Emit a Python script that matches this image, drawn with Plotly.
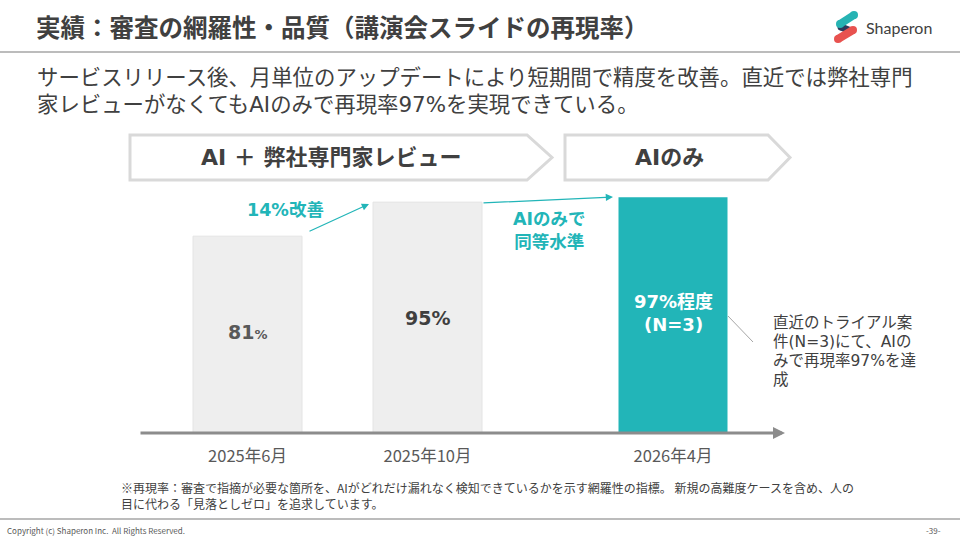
import plotly.graph_objects as go

# ---------------- data ----------------
phase1_categories = ["2025年6月", "2025年10月"]
phase1_values = [81, 95]
phase2_categories = ["2026年4月"]
phase2_values = [97]
phase_labels = ["AI ＋ 弊社専門家レビュー", "AIのみ"]
improvement_label = "14%改善"
equal_label = "AIのみで<br>同等水準"
bar3_label = "97%程度<br>(N=3)"
note_lines = ["直近のトライアル案", "件(N=3)にて、AIの", "みで再現率97%を達", "成"]
title_text = "実績：審査の網羅性・品質（講演会スライドの再現率）"
subtitle_lines = [
    "サービスリリース後、月単位のアップデートにより短期間で精度を改善。直近では弊社専門",
    "家レビューがなくてもAIのみで再現率97%を実現できている。",
]
footnote_lines = [
    "※再現率：審査で指摘が必要な箇所を、AIがどれだけ漏れなく検知できているかを示す網羅性の指標。 新規の高難度ケースを含め、人の",
    "目に代わる「見落としゼロ」を追求しています。",
]
copyright_text = "Copyright (c) Shaperon Inc.  All Rights Reserved."
page_text = "-39-"

# ---------------- style ----------------
W, H = 960, 540
TEAL = "#22b5b8"
GREY_BAR = "#eeeeee"
DARK = "#404040"
MID = "#595959"
JP = "Noto Sans CJK JP"
MIX = "DejaVu Sans, Noto Sans CJK JP"


def px(x):
    return x / W


def py(y):
    return 1 - y / H


fig = go.Figure()
fig.add_trace(go.Bar(
    x=phase1_categories, y=phase1_values, xaxis="x", yaxis="y",
    marker=dict(color=GREY_BAR, line=dict(color="#e4e4e4", width=1)),
    hoverinfo="skip",
))
fig.add_trace(go.Bar(
    x=phase2_categories, y=phase2_values, xaxis="x2", yaxis="y",
    marker=dict(color=TEAL, line=dict(width=0)),
    hoverinfo="skip",
))

shapes = []
annotations = []

# header / footer rules
shapes.append(dict(type="line", xref="paper", yref="paper", x0=0, x1=1, y0=py(52), y1=py(52),
                   line=dict(color="#a6a6a6", width=1.5)))
shapes.append(dict(type="line", xref="paper", yref="paper", x0=0, x1=1, y0=py(519), y1=py(519),
                   line=dict(color="#a6a6a6", width=1.5)))


# logo icon
def seg(x0, y0, x1, y1, color, w):
    shapes.append(dict(type="line", xref="paper", yref="paper", x0=px(x0), y0=py(y0), x1=px(x1), y1=py(y1),
                       line=dict(color=color, width=w)))
    for (cx, cy) in ((x0, y0), (x1, y1)):
        r = w / 2
        shapes.append(dict(type="circle", xref="paper", yref="paper", x0=px(cx - r), x1=px(cx + r),
                           y0=py(cy + r), y1=py(cy - r), fillcolor=color, line=dict(width=0)))


seg(841, 27, 851, 31, "#2e3a5c", 7)
seg(840, 24, 854, 15, "#27b3b3", 8)
seg(838, 39, 853, 30, "#e8524f", 8)

annotations.append(dict(text="Shaperon", xref="paper", yref="paper", x=px(864), y=py(27),
                        xanchor="left", yanchor="middle", showarrow=False,
                        font=dict(family="Lato, Noto Sans", size=16, color=DARK)))

# title
annotations.append(dict(text="<b>" + title_text + "</b>", xref="paper", yref="paper", x=px(34), y=py(26),
                        xanchor="left", yanchor="middle", showarrow=False,
                        font=dict(family=JP, size=24.5, color=DARK)))

# subtitle
for i, line in enumerate(subtitle_lines):
    annotations.append(dict(text=line, xref="paper", yref="paper", x=px(35), y=py(78 + 26 * i),
                            xanchor="left", yanchor="middle", showarrow=False,
                            font=dict(family=MIX, size=21.4, color=DARK)))

# phase chevrons
chevrons = [(130, 527, 552), (565, 768, 790)]
for (xl, xb, xt), label in zip(chevrons, phase_labels):
    path = (f"M {px(xl)},{py(135)} L {px(xb)},{py(135)} L {px(xt)},{py(157.5)} "
            f"L {px(xb)},{py(180)} L {px(xl)},{py(180)} Z")
    shapes.append(dict(type="path", xref="paper", yref="paper", path=path,
                       fillcolor="white", line=dict(color="#d9d9d9", width=3)))
    annotations.append(dict(text="<b>" + label + "</b>", xref="paper", yref="paper",
                            x=px((xl + xb) / 2 + 3), y=py(157), xanchor="center", yanchor="middle",
                            showarrow=False, font=dict(family=MIX, size=22, color=DARK)))

# baseline arrow
annotations.append(dict(text="", xref="paper", yref="y", x=px(785), y=0, ax=-(785 - 139), ay=0,
                        axref="pixel", ayref="pixel", showarrow=True, arrowhead=2, arrowsize=0.8,
                        arrowwidth=3, arrowcolor="#8c8c8c", standoff=0))

# bar value labels
annotations.append(dict(text="<b>" + str(phase1_values[0]) + "<span style='font-size:13px'>%</span></b>",
                        xref="x", yref="y", x=phase1_categories[0], y=phase1_values[0] / 2 + 1,
                        xanchor="center", showarrow=False, font=dict(family=MIX, size=19, color=MID)))
annotations.append(dict(text="<b>" + str(phase1_values[1]) + "%</b>",
                        xref="x", yref="y", x=phase1_categories[1], y=phase1_values[1] / 2,
                        xanchor="center", showarrow=False, font=dict(family=MIX, size=19, color="#3f3f3f")))
annotations.append(dict(text="<b>" + bar3_label + "</b>",
                        xref="x2", yref="y", x=phase2_categories[0], y=phase2_values[0] / 2 + 1,
                        xanchor="center", showarrow=False, font=dict(family=MIX, size=18, color="white")))

# improvement arrows and labels
annotations.append(dict(text="", xref="paper", yref="paper", x=px(369), y=py(204),
                        axref="pixel", ayref="pixel", ax=308 - 369, ay=232 - 204, showarrow=True,
                        arrowhead=2, arrowsize=1.2, arrowwidth=1.2, arrowcolor=TEAL, standoff=0))
annotations.append(dict(text="", xref="paper", yref="paper", x=px(613), y=py(197),
                        axref="pixel", ayref="pixel", ax=482 - 613, ay=203 - 197, showarrow=True,
                        arrowhead=2, arrowsize=1.2, arrowwidth=1.2, arrowcolor=TEAL, standoff=0))
annotations.append(dict(text="<b>" + improvement_label + "</b>", xref="paper", yref="paper",
                        x=px(285), y=py(210), xanchor="center", yanchor="middle", showarrow=False,
                        font=dict(family=MIX, size=17.5, color=TEAL)))
annotations.append(dict(text="<b>" + equal_label + "</b>", xref="paper", yref="paper",
                        x=px(549), y=py(230), xanchor="center", yanchor="middle", showarrow=False,
                        font=dict(family=MIX, size=17.5, color=TEAL)))

# leader line + note
shapes.append(dict(type="line", xref="paper", yref="paper", x0=px(728), y0=py(316), x1=px(753), y1=py(342),
                   line=dict(color="#a6a6a6", width=1)))
for i, line in enumerate(note_lines):
    annotations.append(dict(text=line, xref="paper", yref="paper", x=px(771), y=py(323 + 19 * i),
                            xanchor="left", yanchor="middle", showarrow=False,
                            font=dict(family=MIX, size=15.5, color=DARK)))

# footnote
for i, line in enumerate(footnote_lines):
    annotations.append(dict(text=line, xref="paper", yref="paper", x=px(119), y=py(487 + 16 * i),
                            xanchor="left", yanchor="middle", showarrow=False,
                            font=dict(family=JP, size=12, color=DARK)))

annotations.append(dict(text=copyright_text, xref="paper", yref="paper", x=px(5), y=py(530),
                        xanchor="left", yanchor="middle", showarrow=False,
                        font=dict(family=JP, size=8, color=MID)))
annotations.append(dict(text=page_text, xref="paper", yref="paper", x=px(943), y=py(530),
                        xanchor="right", yanchor="middle", showarrow=False,
                        font=dict(family=JP, size=8, color=MID)))

tick_font = dict(family=JP, size=16.5, color=MID)
fig.update_layout(
    width=W, height=H,
    margin=dict(l=0, r=0, t=0, b=0),
    paper_bgcolor="white", plot_bgcolor="white",
    showlegend=False, bargap=1 - 109 / 180,
    xaxis=dict(domain=[px(157.5), px(517.5)], anchor="y", showgrid=False, zeroline=False,
               showline=False, ticks="", tickfont=tick_font, ticklabelstandoff=11, fixedrange=True),
    xaxis2=dict(domain=[px(583), px(763)], anchor="y", showgrid=False, zeroline=False,
                showline=False, ticks="", tickfont=tick_font, ticklabelstandoff=11, fixedrange=True),
    yaxis=dict(domain=[py(433), py(190)], range=[0, 100], visible=False, fixedrange=True),
    shapes=shapes,
    annotations=annotations,
)

fig.write_html("out.html", config={"displayModeBar": False})
